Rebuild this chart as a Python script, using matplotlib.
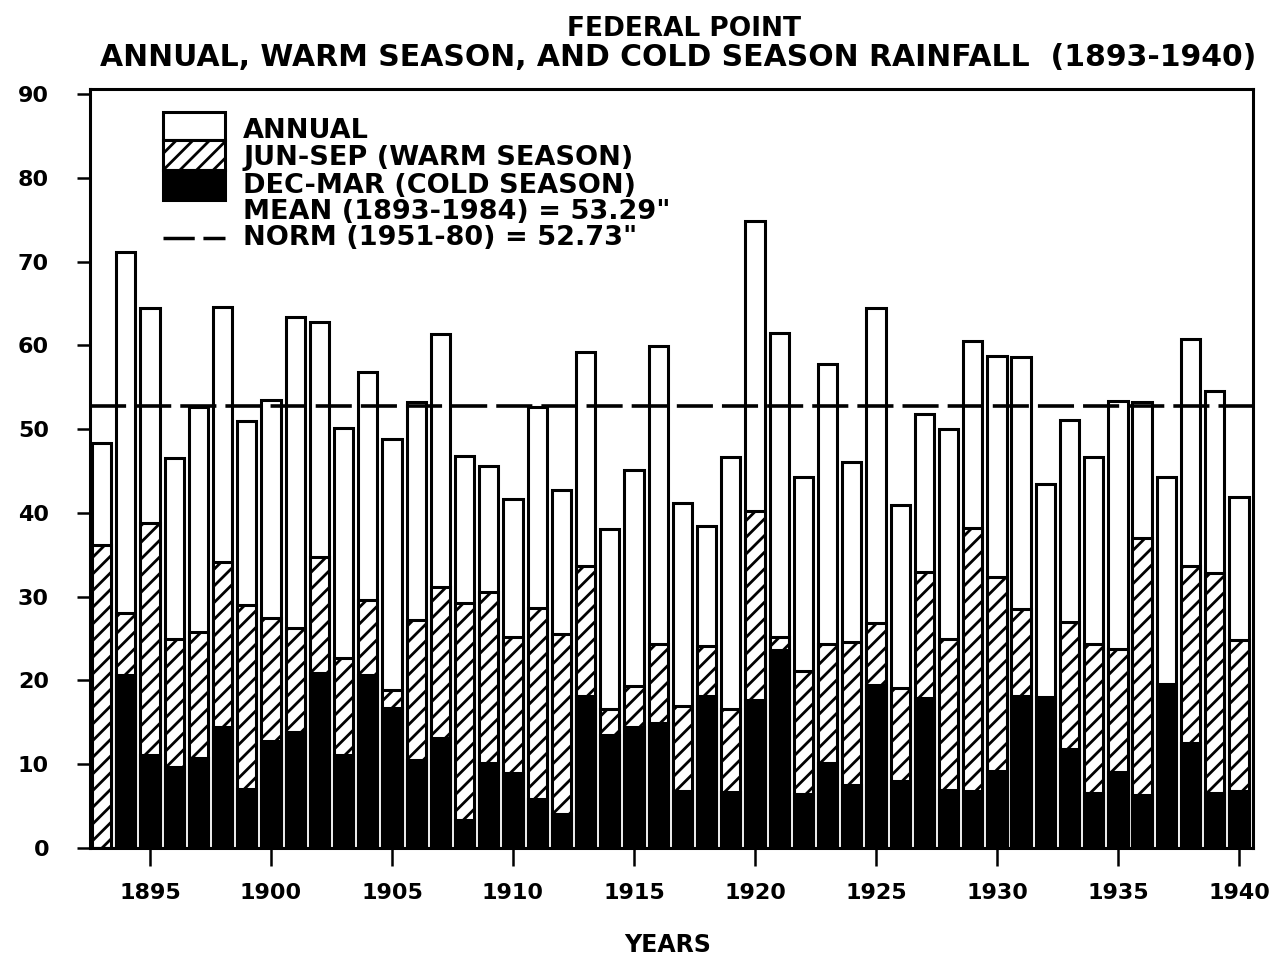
import matplotlib
matplotlib.use("Agg")
import matplotlib.pyplot as plt
from matplotlib.patches import Rectangle
from matplotlib.lines import Line2D

years = list(range(1893, 1941))

annual = [48.3, 71.1, 64.4, 46.5, 52.6, 64.6, 51.0, 53.5, 63.4, 62.8,
          50.1, 56.8, 48.8, 53.2, 61.3, 46.8, 45.6, 41.7, 52.6, 42.7,
          59.2, 38.1, 45.1, 59.9, 41.2, 38.4, 46.7, 74.8, 61.5, 44.3,
          57.8, 46.1, 64.4, 41.0, 51.8, 50.0, 60.5, 58.7, 58.6, 43.5,
          51.1, 46.7, 53.3, 53.2, 44.3, 60.8, 54.5, 41.9]

# jun-sep, drawn from zero (0 where it is hidden behind the cold bar)
warm = [36.2, 28.1, 38.8, 24.9, 25.8, 34.1, 29.0, 27.4, 26.3, 34.7,
        22.7, 29.6, 18.9, 27.2, 31.1, 29.2, 30.5, 25.2, 28.6, 25.6,
        33.7, 16.6, 19.3, 24.3, 16.9, 24.1, 16.6, 40.2, 25.2, 21.1,
        24.3, 24.6, 26.8, 19.1, 33.0, 25.0, 38.2, 32.4, 28.5, 0.0,
        27.0, 24.4, 23.8, 37.0, 0.0, 33.7, 32.8, 24.8]

# dec-mar
cold = [0.0, 20.7, 11.1, 9.7, 10.7, 14.4, 7.1, 12.8, 13.9, 20.9,
        11.1, 20.7, 16.7, 10.5, 13.1, 3.3, 10.1, 9.0, 5.9, 4.1,
        18.1, 13.5, 14.4, 14.9, 6.8, 18.1, 6.7, 17.7, 23.6, 6.5,
        10.1, 7.5, 19.4, 8.0, 17.9, 6.9, 6.8, 9.2, 18.1, 18.0,
        11.8, 6.6, 9.1, 6.3, 19.6, 12.5, 6.6, 6.8]

mean_val = 53.29
norm_val = 52.73

x_ticks = list(range(1895, 1941, 5))
y_ticks = list(range(0, 91, 10))

plt.rcParams['font.family'] = ['DejaVu Sans']
plt.rcParams['font.weight'] = 'bold'
plt.rcParams['hatch.linewidth'] = 2.0

W, H = 1281, 972
fig = plt.figure(figsize=(W / 100, H / 100), dpi=100)
ax = fig.add_axes([90 / W, 1 - 848 / H, 1163 / W, 759 / H])

ax.bar(years, annual, width=0.8, color='white', edgecolor='black', linewidth=2.2, zorder=1)
hb = ax.bar(years, warm, width=0.8, color='white', edgecolor='black', hatch='//', linewidth=2.2, zorder=2)
ax.bar(years, cold, width=0.8, color='black', edgecolor='black', linewidth=2.2, zorder=3)
ax.axhline(norm_val, color='black', linewidth=2.6, dashes=(10, 2.5), zorder=4)

ax.set_xlim(1892.52, 1940.58)
ax.set_ylim(0, 90.6)
ax.set_xticks(x_ticks)
ax.set_yticks(y_ticks)
ax.tick_params(axis='y', direction='out', length=9.5, width=1.8, pad=20, labelsize=16)
ax.tick_params(axis='x', direction='out', length=13, width=1.8, pad=12, labelsize=16)
for s in ax.spines.values():
    s.set_linewidth(2.2)

# legend, drawn by hand in axes fraction
bx, bw = 0.0628, 0.0533
ax.add_patch(Rectangle((bx, 0.9328), bw, 0.0369, transform=ax.transAxes,
                       facecolor='white', edgecolor='black', linewidth=2.2, zorder=5))
lp = Rectangle((bx, 0.8933), bw, 0.0395, transform=ax.transAxes,
               facecolor='white', edgecolor='black', hatch='//', linewidth=2.2, zorder=5)
ax.add_patch(lp)
ax.add_patch(Rectangle((bx, 0.8538), bw, 0.0395, transform=ax.transAxes,
                       facecolor='black', edgecolor='black', linewidth=2.2, zorder=5))
ax.add_line(Line2D([bx, bx + bw], [0.8037, 0.8037], transform=ax.transAxes,
                   color='black', linewidth=2.5, dashes=(9, 2.5), zorder=5))

for p in list(hb) + [lp]:
    if hasattr(p, 'set_hatch_linewidth'):
        p.set_hatch_linewidth(2.0)

labels = ['ANNUAL',
          'JUN-SEP (WARM SEASON)',
          'DEC-MAR (COLD SEASON)',
          'MEAN (1893-1984) = %.2f"' % mean_val,
          'NORM (1951-80) = %.2f"' % norm_val]
rows = [0.9447, 0.9091, 0.8722, 0.8379, 0.8037]
for lab, yy in zip(labels, rows):
    ax.text(0.1316, yy, lab, transform=ax.transAxes, fontsize=19.5,
            ha='left', va='center', zorder=6)

fig.text(684 / W, 1 - 29 / H, 'FEDERAL POINT', fontsize=19, ha='center', va='center')
fig.text(678 / W, 1 - 57 / H, 'ANNUAL, WARM SEASON, AND COLD SEASON RAINFALL  (1893-1940)',
         fontsize=21.5, ha='center', va='center')
fig.text(668 / W, 1 - 945 / H, 'YEARS', fontsize=17, ha='center', va='center')

fig.savefig('out.png', dpi=100)
